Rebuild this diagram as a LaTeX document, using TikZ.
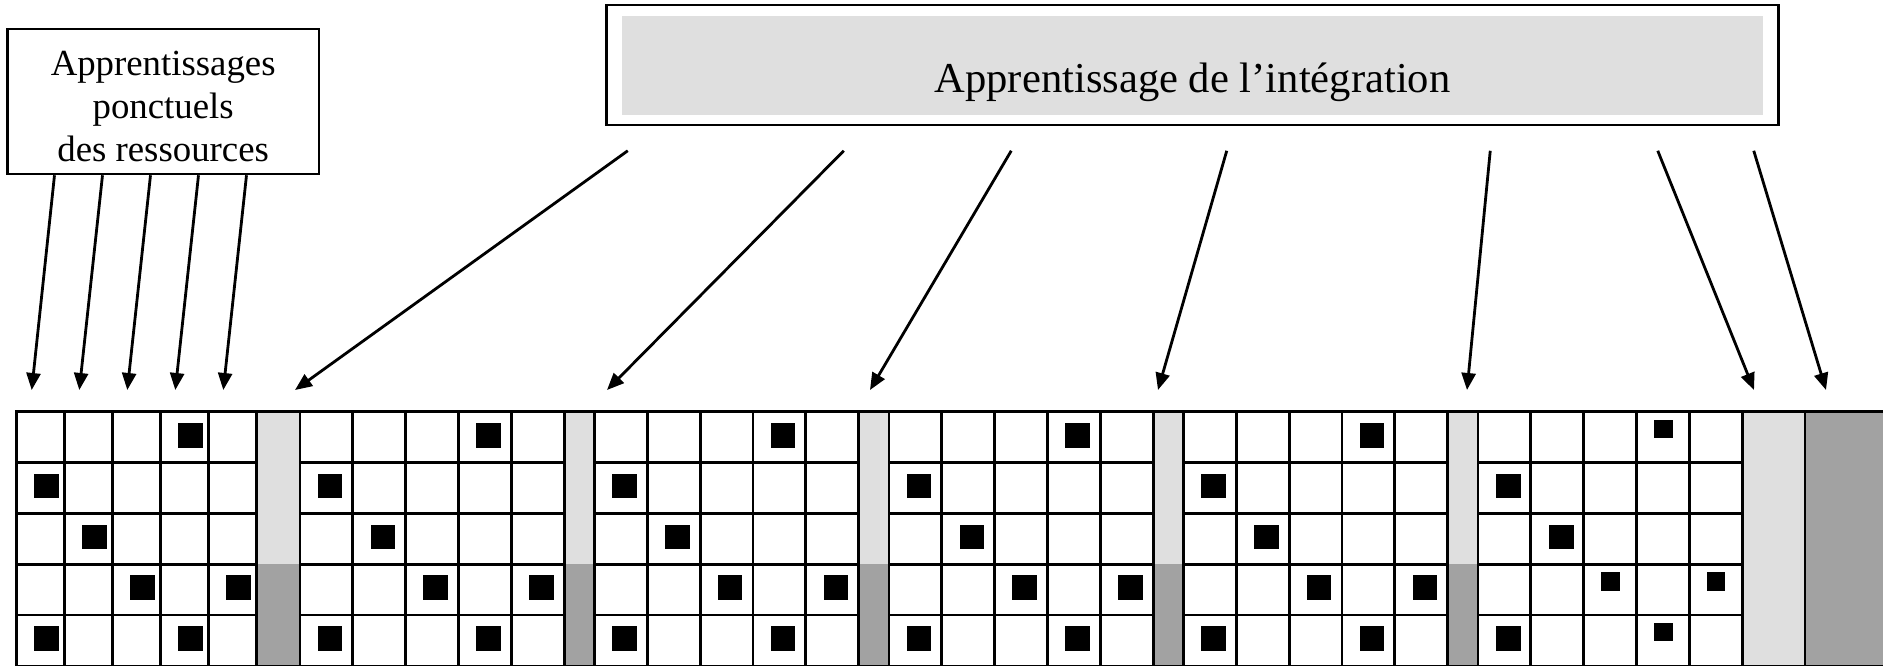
\documentclass[tikz,border=0pt]{standalone}
\usepackage{fontspec}
\setmainfont{Liberation Serif}
\usetikzlibrary{arrows.meta,calc}
\definecolor{lgray}{HTML}{DFDFDF}
\definecolor{dgray}{HTML}{A2A2A2}
\tikzset{
  gridline/.style={line width=2.8pt, line cap=rect},
  conn/.style={line width=2.8pt, -{Triangle[length=17pt,width=14pt]}},
  boxline/.style={draw, line width=2.5pt, inner sep=0pt},
  blk/.style={fill=black},
}
\begin{document}
\begin{tikzpicture}[x=1pt,y=-1pt]
\useasboundingbox (0,0) rectangle (1883,665);

% ---------- top boxes ----------
\node[boxline, minimum width=311.7pt, minimum height=145pt] (res) at (163.2,101.5) {};
\node[align=center, inner sep=0pt, font=\fontsize{36.8}{43}\selectfont] (reslbl) at (163.2,106.5)
      {Apprentissages\\ponctuels\\des ressources};

\node[boxline, minimum width=1172pt, minimum height=120pt] (int) at (1192.5,65) {};
\node[fill=lgray, inner sep=0pt, minimum width=1141pt, minimum height=99.7pt] (intbg) at (1192.5,65.5) {};
\node[font=\fontsize{42.6}{50}\selectfont, anchor=base, inner sep=0pt] (lbl) at (1192.5,92) {Apprentissage de l’intégration};

% ---------- grid fills ----------
\foreach \b in {1,...,5}{
  \pgfmathsetmacro{\gs}{\b==1 ? 256.7 : 300+(\b-2)*294.5+264.2}
  \pgfmathsetmacro{\ge}{300+(\b-1)*294.5}
  \fill[lgray] (\gs,411.7) rectangle (\ge,563.7);
  \fill[dgray] (\gs,563.7) rectangle (\ge,666);
}
\fill[lgray] (1742.3,411.7) rectangle (1805,666);
\fill[dgray] (1805,411.7) rectangle (1883,666);

% ---------- squares ----------
\foreach \b in {1,...,5}{
  \pgfmathsetmacro{\xo}{\b==1 ? 16.7 : 300+(\b-2)*294.5}
  \pgfmathsetmacro{\w}{\b==1 ? 48 : 52.84}
  \foreach \c/\r in {4/1,1/2,2/3,3/4,5/4,1/5,4/5}{
    \fill[blk] ({\xo+(\c-1)*\w+17.7},{411.7+(\r-1)*50.8+11.3}) rectangle ++(24.5,24.5);
  }
}
\foreach \c/\r in {1/2,2/3,1/5}{
  \fill[blk] ({1478.7+(\c-1)*52.84+17.7},{411.7+(\r-1)*50.8+11.3}) rectangle ++(24.5,24.5);
}
\foreach \c/\r in {4/1,3/4,5/4,4/5}{
  \fill[blk] ({1478.7+(\c-1)*52.84+17},{411.7+(\r-1)*50.8+8.2}) rectangle ++(18.3,18.3);
}

% ---------- grid lines ----------
\foreach \b in {1,...,6}{
  \pgfmathsetmacro{\xo}{\b==1 ? 16.7 : 300+(\b-2)*294.5}
  \pgfmathsetmacro{\w}{\b==1 ? 48 : 52.84}
  \foreach \k in {0,...,5}{
    \draw[gridline] ({\xo+\k*\w},411.7) -- ({\xo+\k*\w},666);
  }
  \foreach \r in {1,...,4}{
    \draw[gridline] (\xo,{411.7+\r*50.8}) -- ({\xo+5*\w},{411.7+\r*50.8});
  }
}
\draw[gridline] (1805,411.7) -- (1805,666);
\draw[gridline] (16.7,411.7) -- (1883,411.7);
\draw[gridline] (16.7,666) -- (1883,666);

% ---------- arrows from left box ----------
\foreach \i/\tx in {1/31.7,2/79.3,3/127.3,4/175.3,5/223.3}{
  \coordinate (rt\i) at (\tx,390);
  \draw[conn] ($(res.south west)+({48.4+(\i-1)*48},0)$) -- (rt\i);
}

% ---------- arrows from integration box ----------
\foreach \i/\sx/\tx in {1/22.5/295,2/238.5/607,3/406/870,4/621.5/1158,5/885/1467,6/1052.5/1754,7/1148.5/1826}{
  \coordinate (it\i) at (\tx,390);
  \draw[conn] ($(int.south west)+(\sx,24.5)$) -- (it\i);
}
\end{tikzpicture}
\end{document}
